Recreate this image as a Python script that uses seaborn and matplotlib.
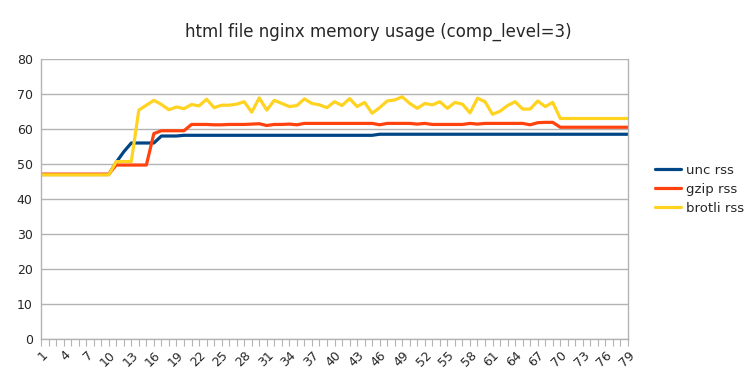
import pandas as pd
import matplotlib
matplotlib.use('Agg')
import matplotlib.pyplot as plt
import seaborn as sns

# dados
runs = list(range(1, 80))

unc_rss = [47.0] * 10 + [50.5, 53.5, 56.0, 56.0, 56.0, 56.0, 58.0, 58.0, 58.0] \
    + [58.2] * 26 + [58.5] * 34

gzip_rss = [47.1] * 10 + [49.7] * 5 + [58.7, 59.5, 59.5, 59.5, 59.5] \
    + [61.3, 61.3, 61.3, 61.2, 61.2, 61.3, 61.3, 61.3, 61.4, 61.5,
       61.0, 61.3, 61.3, 61.4, 61.2] \
    + [61.6] * 10 + [61.2, 61.6, 61.6, 61.6, 61.6, 61.4, 61.6,
                     61.3, 61.3, 61.3, 61.3, 61.3, 61.6, 61.4,
                     61.6, 61.6, 61.6, 61.6, 61.6, 61.6, 61.2,
                     61.8, 61.9, 61.9] \
    + [60.5] * 10

brotli_rss = [46.9] * 10 + [50.7, 50.7, 50.7] \
    + [65.4, 66.8, 68.2, 67.0, 65.5, 66.3, 65.8, 67.0, 66.6, 68.5,
       66.1, 66.8, 66.8, 67.1, 67.8, 64.8, 68.9, 65.4, 68.2, 67.3,
       66.4, 66.7, 68.6, 67.3, 66.9, 66.1, 67.8, 66.7, 68.7, 66.4,
       67.6, 64.5, 66.1, 68.0, 68.3, 69.2, 67.3, 65.9, 67.3, 66.9,
       67.8, 65.9, 67.6, 67.1, 64.6, 68.8, 67.8, 64.2, 65.1, 66.7,
       67.8, 65.7, 65.7, 68.0, 66.4, 67.6] \
    + [63.0] * 10

series_names = ['unc rss', 'gzip rss', 'brotli rss']
cores = ['#004586', '#ff420e', '#ffd320']

df = pd.DataFrame({'run': runs * 3,
                   'rss': unc_rss + gzip_rss + brotli_rss,
                   'serie': [s for s in series_names for _ in runs]})

sns.set_style('white')
plt.rcParams['font.family'] = ['DejaVu Sans']

fig = plt.figure(figsize=(7.56, 3.78), dpi=100)
ax = fig.add_axes([41 / 756, 1 - 339 / 378, 587 / 756, 280 / 378])

sns.lineplot(data=df, x='run', y='rss', hue='serie', palette=cores,
             hue_order=series_names, linewidth=2.3, ax=ax)

ax.set_xlim(1, 79)
ax.set_ylim(0, 80)
ax.set_yticks(range(0, 81, 10))
ax.set_xticks(runs)
ax.set_xticklabels([str(r) if (r - 1) % 3 == 0 else '' for r in runs],
                   rotation=45, ha='right', rotation_mode='anchor', fontsize=9)
ax.tick_params(axis='y', labelsize=9, length=0, pad=6)
ax.tick_params(axis='x', length=5, width=0.8, color='#b3b3b3', pad=2, bottom=True)

ax.grid(True, axis='y', color='#b3b3b3', linewidth=1)
ax.set_axisbelow(True)
for lado in ['left', 'bottom', 'right']:
    ax.spines[lado].set_color('#b3b3b3')
    ax.spines[lado].set_linewidth(1)
ax.spines['top'].set_visible(False)

ax.set_xlabel('')
ax.set_ylabel('')

ax.legend(title=None, frameon=False, loc='center left',
          bbox_to_anchor=(1.025, 0.535), fontsize=9.5, handlelength=2.0,
          handletextpad=0.4, labelspacing=0.45)

fig.suptitle('html file nginx memory usage (comp_level=3)', fontsize=12,
             x=0.5, y=0.94)

fig.savefig('out.png', dpi=100)
